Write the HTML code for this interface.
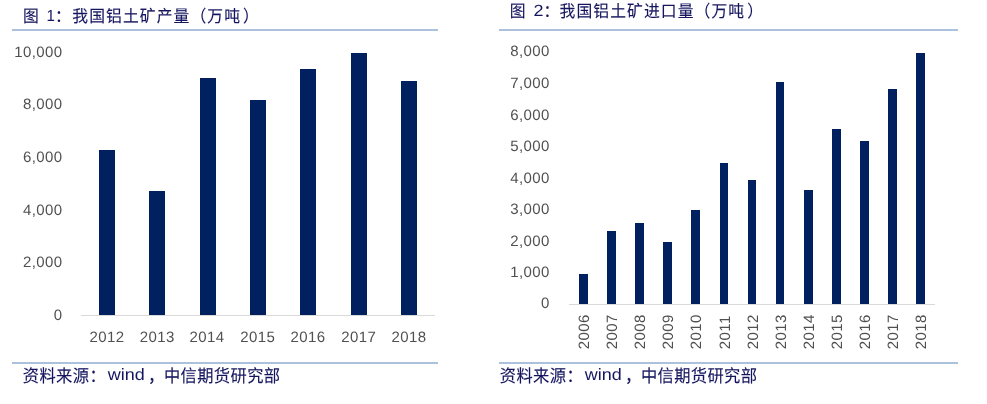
<!DOCTYPE html>
<html lang="zh-CN">
<head>
<meta charset="utf-8">
<title>铝土矿产量与进口量</title>
<style>
html,body{margin:0;padding:0;background:#fff;}
body{width:987px;height:404px;overflow:hidden;}
svg{display:block;}
text{text-rendering:geometricPrecision;}
.t{font-family:"Liberation Sans","Noto Sans CJK SC",sans-serif;font-size:15.8px;fill:#14145f;letter-spacing:1.08px;stroke:#14145f;stroke-width:0.1px;}
.l{font-family:"Liberation Sans","Noto Sans CJK SC",sans-serif;fill:#14145f;stroke:none;letter-spacing:0;}
.n{font-family:"Liberation Sans",sans-serif;font-size:15px;fill:#505050;letter-spacing:0.4px;}
.b{fill:#002060;}
</style>
</head>
<body>
<svg width="987" height="404" viewBox="0 0 987 404">
<rect x="0" y="0" width="987" height="404" fill="#ffffff"/>
<rect x="12" y="29" width="426" height="2" fill="#acc1db"/>
<rect x="12" y="362" width="426" height="2" fill="#acc1db"/>
<rect x="499" y="29" width="459" height="2" fill="#acc1db"/>
<rect x="499" y="362" width="459" height="2" fill="#acc1db"/>
<text class="t" transform="translate(0,21.90) scale(1,1.06)"><tspan x="23.00" dy="0.00">图 </tspan><tspan class="l" x="46.40" dy="-1.13" font-size="15.09">1</tspan><tspan x="55.00" dy="1.13">：</tspan><tspan x="72.30" dy="0.00">我国铝土矿产量（万吨</tspan><tspan x="243.10" dy="0.00">）</tspan></text>
<text class="t" transform="translate(0,17.20) scale(1,1.06)"><tspan x="509.70" dy="0.00">图 </tspan><tspan class="l" x="533.40" dy="-0.75" font-size="15.28" textLength="10.00" lengthAdjust="spacingAndGlyphs">2</tspan><tspan x="543.40" dy="0.75">：</tspan><tspan x="559.50" dy="0.00">我国铝土矿进口量（万吨</tspan><tspan x="747.18" dy="0.00">）</tspan></text>
<text class="t" style="letter-spacing:0.365px" transform="translate(0,382.10) scale(1.03,1.11)"><tspan x="22.14" dy="0.00">资料来源：</tspan><tspan class="l" x="104.56" dy="-1.53" font-size="14.86" textLength="35.92" lengthAdjust="spacingAndGlyphs">wind</tspan><tspan x="143.69" dy="1.53">，</tspan><tspan x="159.13" dy="0.00">中信期货研究部</tspan></text>
<text class="t" style="letter-spacing:0.365px" transform="translate(0,382.10) scale(1.03,1.11)"><tspan x="485.24" dy="0.00">资料来源：</tspan><tspan class="l" x="567.67" dy="-1.53" font-size="14.86" textLength="35.92" lengthAdjust="spacingAndGlyphs">wind</tspan><tspan x="606.80" dy="1.53">，</tspan><tspan x="622.23" dy="0.00">中信期货研究部</tspan></text>
<rect x="81" y="315" width="354" height="1" fill="#d9d9d9"/>
<rect class="b" x="99" y="150" width="16" height="165"/>
<rect class="b" x="149" y="191" width="16" height="124"/>
<rect class="b" x="200" y="78" width="16" height="237"/>
<rect class="b" x="250" y="100" width="16" height="215"/>
<rect class="b" x="300" y="69" width="16" height="246"/>
<rect class="b" x="351" y="53" width="16" height="262"/>
<rect class="b" x="401" y="81" width="16" height="234"/>
<text class="n" transform="translate(62.6,319.8) scale(1,1)" text-anchor="end">0</text>
<text class="n" transform="translate(62.6,267.2) scale(1,1)" text-anchor="end">2,000</text>
<text class="n" transform="translate(62.6,214.6) scale(1,1)" text-anchor="end">4,000</text>
<text class="n" transform="translate(62.6,162.0) scale(1,1)" text-anchor="end">6,000</text>
<text class="n" transform="translate(62.6,109.4) scale(1,1)" text-anchor="end">8,000</text>
<text class="n" transform="translate(62.6,56.8) scale(1,1)" text-anchor="end">10,000</text>
<text class="n" transform="translate(107.05,341.5) scale(1,1)" text-anchor="middle">2012</text>
<text class="n" transform="translate(157.2,341.5) scale(1,1)" text-anchor="middle">2013</text>
<text class="n" transform="translate(207.04999999999998,341.5) scale(1,1)" text-anchor="middle">2014</text>
<text class="n" transform="translate(257.75,341.5) scale(1,1)" text-anchor="middle">2015</text>
<text class="n" transform="translate(308.0,341.5) scale(1,1)" text-anchor="middle">2016</text>
<text class="n" transform="translate(358.7,341.5) scale(1,1)" text-anchor="middle">2017</text>
<text class="n" transform="translate(409.0,341.5) scale(1,1)" text-anchor="middle">2018</text>
<rect x="569" y="304" width="366" height="1" fill="#d9d9d9"/>
<rect class="b" x="579" y="274" width="9" height="30"/>
<rect class="b" x="607" y="231" width="9" height="73"/>
<rect class="b" x="635" y="223" width="9" height="81"/>
<rect class="b" x="663" y="242" width="9" height="62"/>
<rect class="b" x="691" y="210" width="9" height="94"/>
<rect class="b" x="720" y="163" width="8" height="141"/>
<rect class="b" x="748" y="180" width="8" height="124"/>
<rect class="b" x="776" y="82" width="8" height="222"/>
<rect class="b" x="804" y="190" width="9" height="114"/>
<rect class="b" x="832" y="129" width="9" height="175"/>
<rect class="b" x="860" y="141" width="9" height="163"/>
<rect class="b" x="888" y="89" width="9" height="215"/>
<rect class="b" x="916" y="53" width="9" height="251"/>
<text class="n" transform="translate(549.8,308.4) scale(1,1)" text-anchor="end">0</text>
<text class="n" transform="translate(549.8,277.3) scale(1,1)" text-anchor="end">1,000</text>
<text class="n" transform="translate(549.8,245.9) scale(1,1)" text-anchor="end">2,000</text>
<text class="n" transform="translate(549.8,214.4) scale(1,1)" text-anchor="end">3,000</text>
<text class="n" transform="translate(549.8,182.7) scale(1,1)" text-anchor="end">4,000</text>
<text class="n" transform="translate(549.8,151.4) scale(1,1)" text-anchor="end">5,000</text>
<text class="n" transform="translate(549.8,119.5) scale(1,1)" text-anchor="end">6,000</text>
<text class="n" transform="translate(549.8,87.9) scale(1,1)" text-anchor="end">7,000</text>
<text class="n" transform="translate(549.8,56.3) scale(1,1)" text-anchor="end">8,000</text>
<text class="n" transform="translate(589.0,349.2) rotate(-90) scale(1,1)">2006</text>
<text class="n" transform="translate(617.1,349.2) rotate(-90) scale(1,1)">2007</text>
<text class="n" transform="translate(645.2,349.2) rotate(-90) scale(1,1)">2008</text>
<text class="n" transform="translate(673.3,349.2) rotate(-90) scale(1,1)">2009</text>
<text class="n" transform="translate(701.4,349.2) rotate(-90) scale(1,1)">2010</text>
<text class="n" transform="translate(729.5,349.2) rotate(-90) scale(1,1)">2011</text>
<text class="n" transform="translate(757.6,349.2) rotate(-90) scale(1,1)">2012</text>
<text class="n" transform="translate(785.7,349.2) rotate(-90) scale(1,1)">2013</text>
<text class="n" transform="translate(813.8,349.2) rotate(-90) scale(1,1)">2014</text>
<text class="n" transform="translate(841.9,349.2) rotate(-90) scale(1,1)">2015</text>
<text class="n" transform="translate(870.0,349.2) rotate(-90) scale(1,1)">2016</text>
<text class="n" transform="translate(898.1,349.2) rotate(-90) scale(1,1)">2017</text>
<text class="n" transform="translate(926.2,349.2) rotate(-90) scale(1,1)">2018</text>
</svg>
</body>
</html>
